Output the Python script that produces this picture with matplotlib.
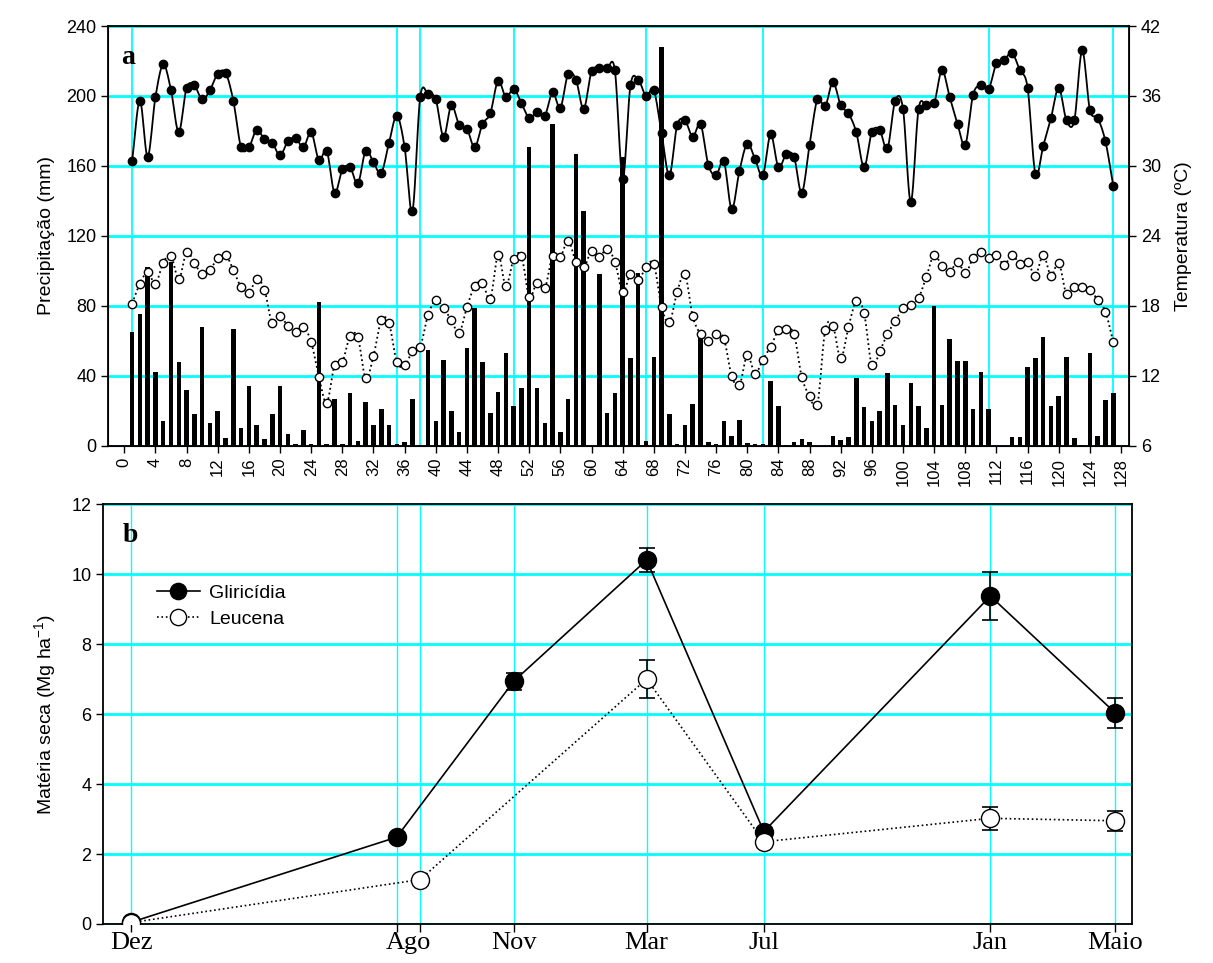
import matplotlib.pyplot as plt
import numpy as np

plt.rcParams['font.family'] = ['Liberation Sans', 'DejaVu Sans']
plt.rcParams['mathtext.fontset'] = 'custom'
plt.rcParams['mathtext.rm'] = 'Liberation Sans'
plt.rcParams['mathtext.it'] = 'Liberation Sans:italic'

# ---- panel a: weekly data (weeks 1..127)
weeks = np.arange(1, 128)

precip = [65, 75.6, 102, 42, 14, 105, 48, 32, 18, 68,
          13, 20, 4.5, 67, 10, 34, 12, 4, 18, 34,
          7, 1, 9, 1, 82, 1, 27, 1, 30, 3,
          25, 12, 21, 12, 1, 2, 27, 0.5, 55, 14,
          49, 20, 8, 56, 79, 48, 19, 31, 53, 23,
          33, 171, 33, 13, 184, 8, 27, 167, 134, 0,
          98, 19, 30, 165, 50, 99, 3, 51, 228, 18,
          1, 12, 24, 65, 2.5, 1, 14.5, 5.7, 15, 1.7,
          1.3, 1, 37, 23, 0.8, 2.3, 4, 2.3, 0, 0,
          5.7, 3.2, 5.3, 39, 22.5, 14, 20, 41.5, 23.6, 12,
          36, 23, 10, 80, 23.6, 61, 48.6, 48.6, 21, 42.5,
          21, 0, 0, 5, 5, 45, 50, 62, 23, 28.6,
          51, 4.6, 0.4, 53, 5.7, 26, 30]

tmax = [30.4, 35.6, 30.8, 35.9, 38.7, 36.5, 32.9, 36.7, 36.9, 35.7,
        36.5, 37.9, 38.0, 35.6, 31.6, 31.6, 33.1, 32.3, 32.0, 30.9,
        32.1, 32.4, 31.6, 32.9, 30.5, 31.3, 27.7, 29.7, 29.9, 28.5,
        31.3, 30.3, 29.4, 32.0, 34.3, 31.6, 26.1, 35.9, 36.2, 35.7,
        32.5, 35.2, 33.5, 33.2, 31.6, 33.6, 34.5, 37.3, 35.9, 36.6,
        35.4, 34.1, 34.6, 34.3, 36.3, 35.0, 37.9, 37.4, 34.9, 38.1,
        38.4, 38.4, 38.2, 28.9, 36.9, 37.4, 36.0, 36.5, 32.8, 29.2,
        33.5, 33.9, 32.5, 33.6, 30.1, 29.2, 30.4, 26.3, 29.6, 31.9,
        30.6, 29.2, 32.7, 29.9, 31.0, 30.8, 27.7, 31.8, 35.7, 35.1,
        37.2, 35.2, 34.5, 32.9, 29.9, 32.9, 33.1, 31.5, 35.6, 34.9,
        26.9, 34.9, 35.2, 35.4, 38.2, 35.9, 33.6, 31.8, 36.1, 36.9,
        36.6, 38.8, 39.1, 39.7, 38.2, 36.7, 29.3, 31.7, 34.1, 36.7,
        33.9, 33.9, 39.9, 34.8, 34.1, 32.1, 28.3]

tmin = [18.2, 19.9, 20.9, 19.9, 21.7, 22.3, 20.3, 22.6, 21.7, 20.7,
        21.1, 22.1, 22.4, 21.1, 19.6, 19.1, 20.3, 19.4, 16.5, 17.1,
        16.3, 15.8, 16.2, 14.9, 11.9, 9.7, 12.9, 13.2, 15.4, 15.3,
        11.8, 13.7, 16.8, 16.5, 13.2, 12.9, 14.1, 14.5, 17.2, 18.5,
        17.8, 16.8, 15.7, 17.9, 19.7, 20.0, 18.6, 22.4, 19.7, 22.0,
        22.3, 18.8, 20.0, 19.5, 22.3, 22.2, 23.6, 21.8, 21.3, 22.7,
        22.2, 22.9, 21.8, 19.2, 20.7, 20.2, 21.3, 21.6, 17.9, 16.6,
        19.2, 20.7, 17.1, 15.6, 15.0, 15.6, 15.2, 12.0, 11.2, 13.8,
        12.2, 13.4, 14.5, 15.9, 16.0, 15.6, 11.9, 10.3, 9.5, 15.9,
        16.3, 13.5, 16.2, 18.4, 17.4, 12.9, 14.1, 15.6, 16.7, 17.8,
        18.1, 18.7, 20.5, 22.4, 21.4, 20.9, 21.8, 20.8, 22.1, 22.6,
        22.1, 22.4, 21.5, 22.4, 21.6, 21.8, 20.6, 22.4, 20.6, 21.7,
        19.0, 19.6, 19.6, 19.4, 18.5, 17.5, 14.9]

# ---- panel b: dry matter by sampling date (positions in weeks)
month_labels = ['Dez', 'Ago', 'Nov', 'Mar', 'Jul', 'Jan', 'Maio']
month_label_pos = [1, 36.5, 50, 67, 82, 111, 127]
grid_pos = [1, 35, 38, 50, 67, 82, 111, 127]

glir_x = [1, 35, 50, 67, 82, 111, 127]
glir_y = [0.05, 2.48, 6.94, 10.4, 2.64, 9.37, 6.03]
glir_err = [0.03, 0.08, 0.24, 0.35, 0.08, 0.69, 0.43]

leuc_x = [1, 38, 67, 82, 111, 127]
leuc_y = [0.04, 1.27, 7.0, 2.35, 3.02, 2.95]
leuc_err = [0.02, 0.05, 0.55, 0.05, 0.33, 0.28]


def smooth(x, y, n=10):
    # catmull-rom curve through the points, like the spline line of the original
    x = np.asarray(x, float)
    y = np.asarray(y, float)
    px = np.concatenate([[2 * x[0] - x[1]], x, [2 * x[-1] - x[-2]]])
    py = np.concatenate([[2 * y[0] - y[1]], y, [2 * y[-1] - y[-2]]])
    t = np.linspace(0, 1, n, endpoint=False)
    xs, ys = [], []
    for i in range(1, len(px) - 2):
        for p, out in ((px, xs), (py, ys)):
            p0, p1, p2, p3 = p[i - 1], p[i], p[i + 1], p[i + 2]
            out.extend(0.5 * (2 * p1 + (-p0 + p2) * t
                              + (2 * p0 - 5 * p1 + 4 * p2 - p3) * t ** 2
                              + (-p0 + 3 * p1 - 3 * p2 + p3) * t ** 3))
    xs.append(x[-1])
    ys.append(y[-1])
    return xs, ys


fig = plt.figure(figsize=(12.13, 9.63), dpi=100)

# ================= panel a
ax = fig.add_axes([0.0893, 0.5369, 0.8417, 0.4361])
ax.set_axisbelow(True)
ax.bar(weeks, precip, width=0.58, color='black', zorder=2)
ax.set_xlim(-2.05, 129.06)
ax.set_ylim(0, 240)
ax.set_yticks(np.arange(0, 241, 40))
ax.set_xticks(np.arange(0, 129, 4))
ax.set_xticklabels([str(v) for v in range(0, 129, 4)], rotation=90)
ax.yaxis.grid(True, color='cyan', lw=2)
for g in grid_pos:
    ax.axvline(g, color='cyan', lw=1.3, zorder=0.5)
ax.set_ylabel('Precipitação (mm)', fontsize=14, labelpad=8)
ax.tick_params(direction='out', length=5, width=1, labelsize=13)
ax.tick_params(axis='x', labelsize=12)
for s in ax.spines.values():
    s.set_linewidth(1.3)
ax.text(0.0125, 0.955, 'a', transform=ax.transAxes, family='Liberation Serif',
        fontweight='bold', fontsize=20, va='top', ha='left')

ax2 = ax.twinx()
ax2.set_ylim(6, 42)
ax2.set_yticks(np.arange(6, 43, 6))
sx, sy = smooth(weeks, tmax)
ax2.plot(sx, sy, color='black', lw=1.3, zorder=3)
ax2.plot(weeks, tmax, 'o', color='black', ms=6, zorder=4)
sx, sy = smooth(weeks, tmin)
ax2.plot(sx, sy, color='black', lw=1.3, ls=':', zorder=3)
ax2.plot(weeks, tmin, 'o', mfc='white', mec='black', mew=1, ms=6, zorder=4)
ax2.set_ylabel('Temperatura (ºC)', fontsize=14, labelpad=10)
ax2.tick_params(direction='out', length=5, width=1, labelsize=13)

# ================= panel b
axb = fig.add_axes([0.0852, 0.0405, 0.8478, 0.4361])
axb.set_axisbelow(True)
axb.set_xlim(-2.55, 129.1)
axb.set_ylim(0, 12)
axb.set_yticks(np.arange(0, 13, 2))
axb.yaxis.grid(True, color='cyan', lw=2)
for g in grid_pos:
    axb.axvline(g, color='cyan', lw=1, zorder=0.5)

axb.errorbar(glir_x, glir_y, yerr=glir_err, fmt='none', ecolor='black',
             elinewidth=1.2, capsize=6, capthick=1.2, zorder=3)
axb.errorbar(leuc_x, leuc_y, yerr=leuc_err, fmt='none', ecolor='black',
             elinewidth=1.2, capsize=6, capthick=1.2, zorder=3)
l1, = axb.plot(glir_x, glir_y, '-o', color='black', lw=1.2, ms=13,
               zorder=4, label='Gliricídia')
l2, = axb.plot(leuc_x, leuc_y, ':o', color='black', lw=1.2, ms=13,
               mfc='white', mec='black', mew=1, zorder=5, label='Leucena')

# tick marks at the sampling dates, month names as minor (unmarked) ticks
axb.xaxis.remove_overlapping_locs = False
axb.set_xticks(grid_pos)
axb.set_xticklabels([])
axb.set_xticks(month_label_pos, minor=True)
axb.set_xticklabels(month_labels, minor=True, family='Liberation Serif', fontsize=19)
axb.tick_params(axis='x', which='minor', length=0, pad=6)
axb.tick_params(axis='x', which='major', direction='out', length=6, width=1)
axb.tick_params(axis='y', direction='out', length=5, width=1, labelsize=13)
axb.set_ylabel('Matéria seca (Mg ha$^{-1}$)', fontsize=14, labelpad=10)
for s in axb.spines.values():
    s.set_linewidth(1.3)
axb.text(0.019, 0.955, 'b', transform=axb.transAxes, family='Liberation Serif',
         fontweight='bold', fontsize=20, va='top', ha='left')
axb.legend(handles=[l1, l2], loc='upper left', bbox_to_anchor=(0.035, 0.85),
           frameon=False, fontsize=14, handlelength=2.2, handletextpad=0.5,
           labelspacing=0.4, markerscale=0.9)

fig.savefig('out.png', dpi=100)
